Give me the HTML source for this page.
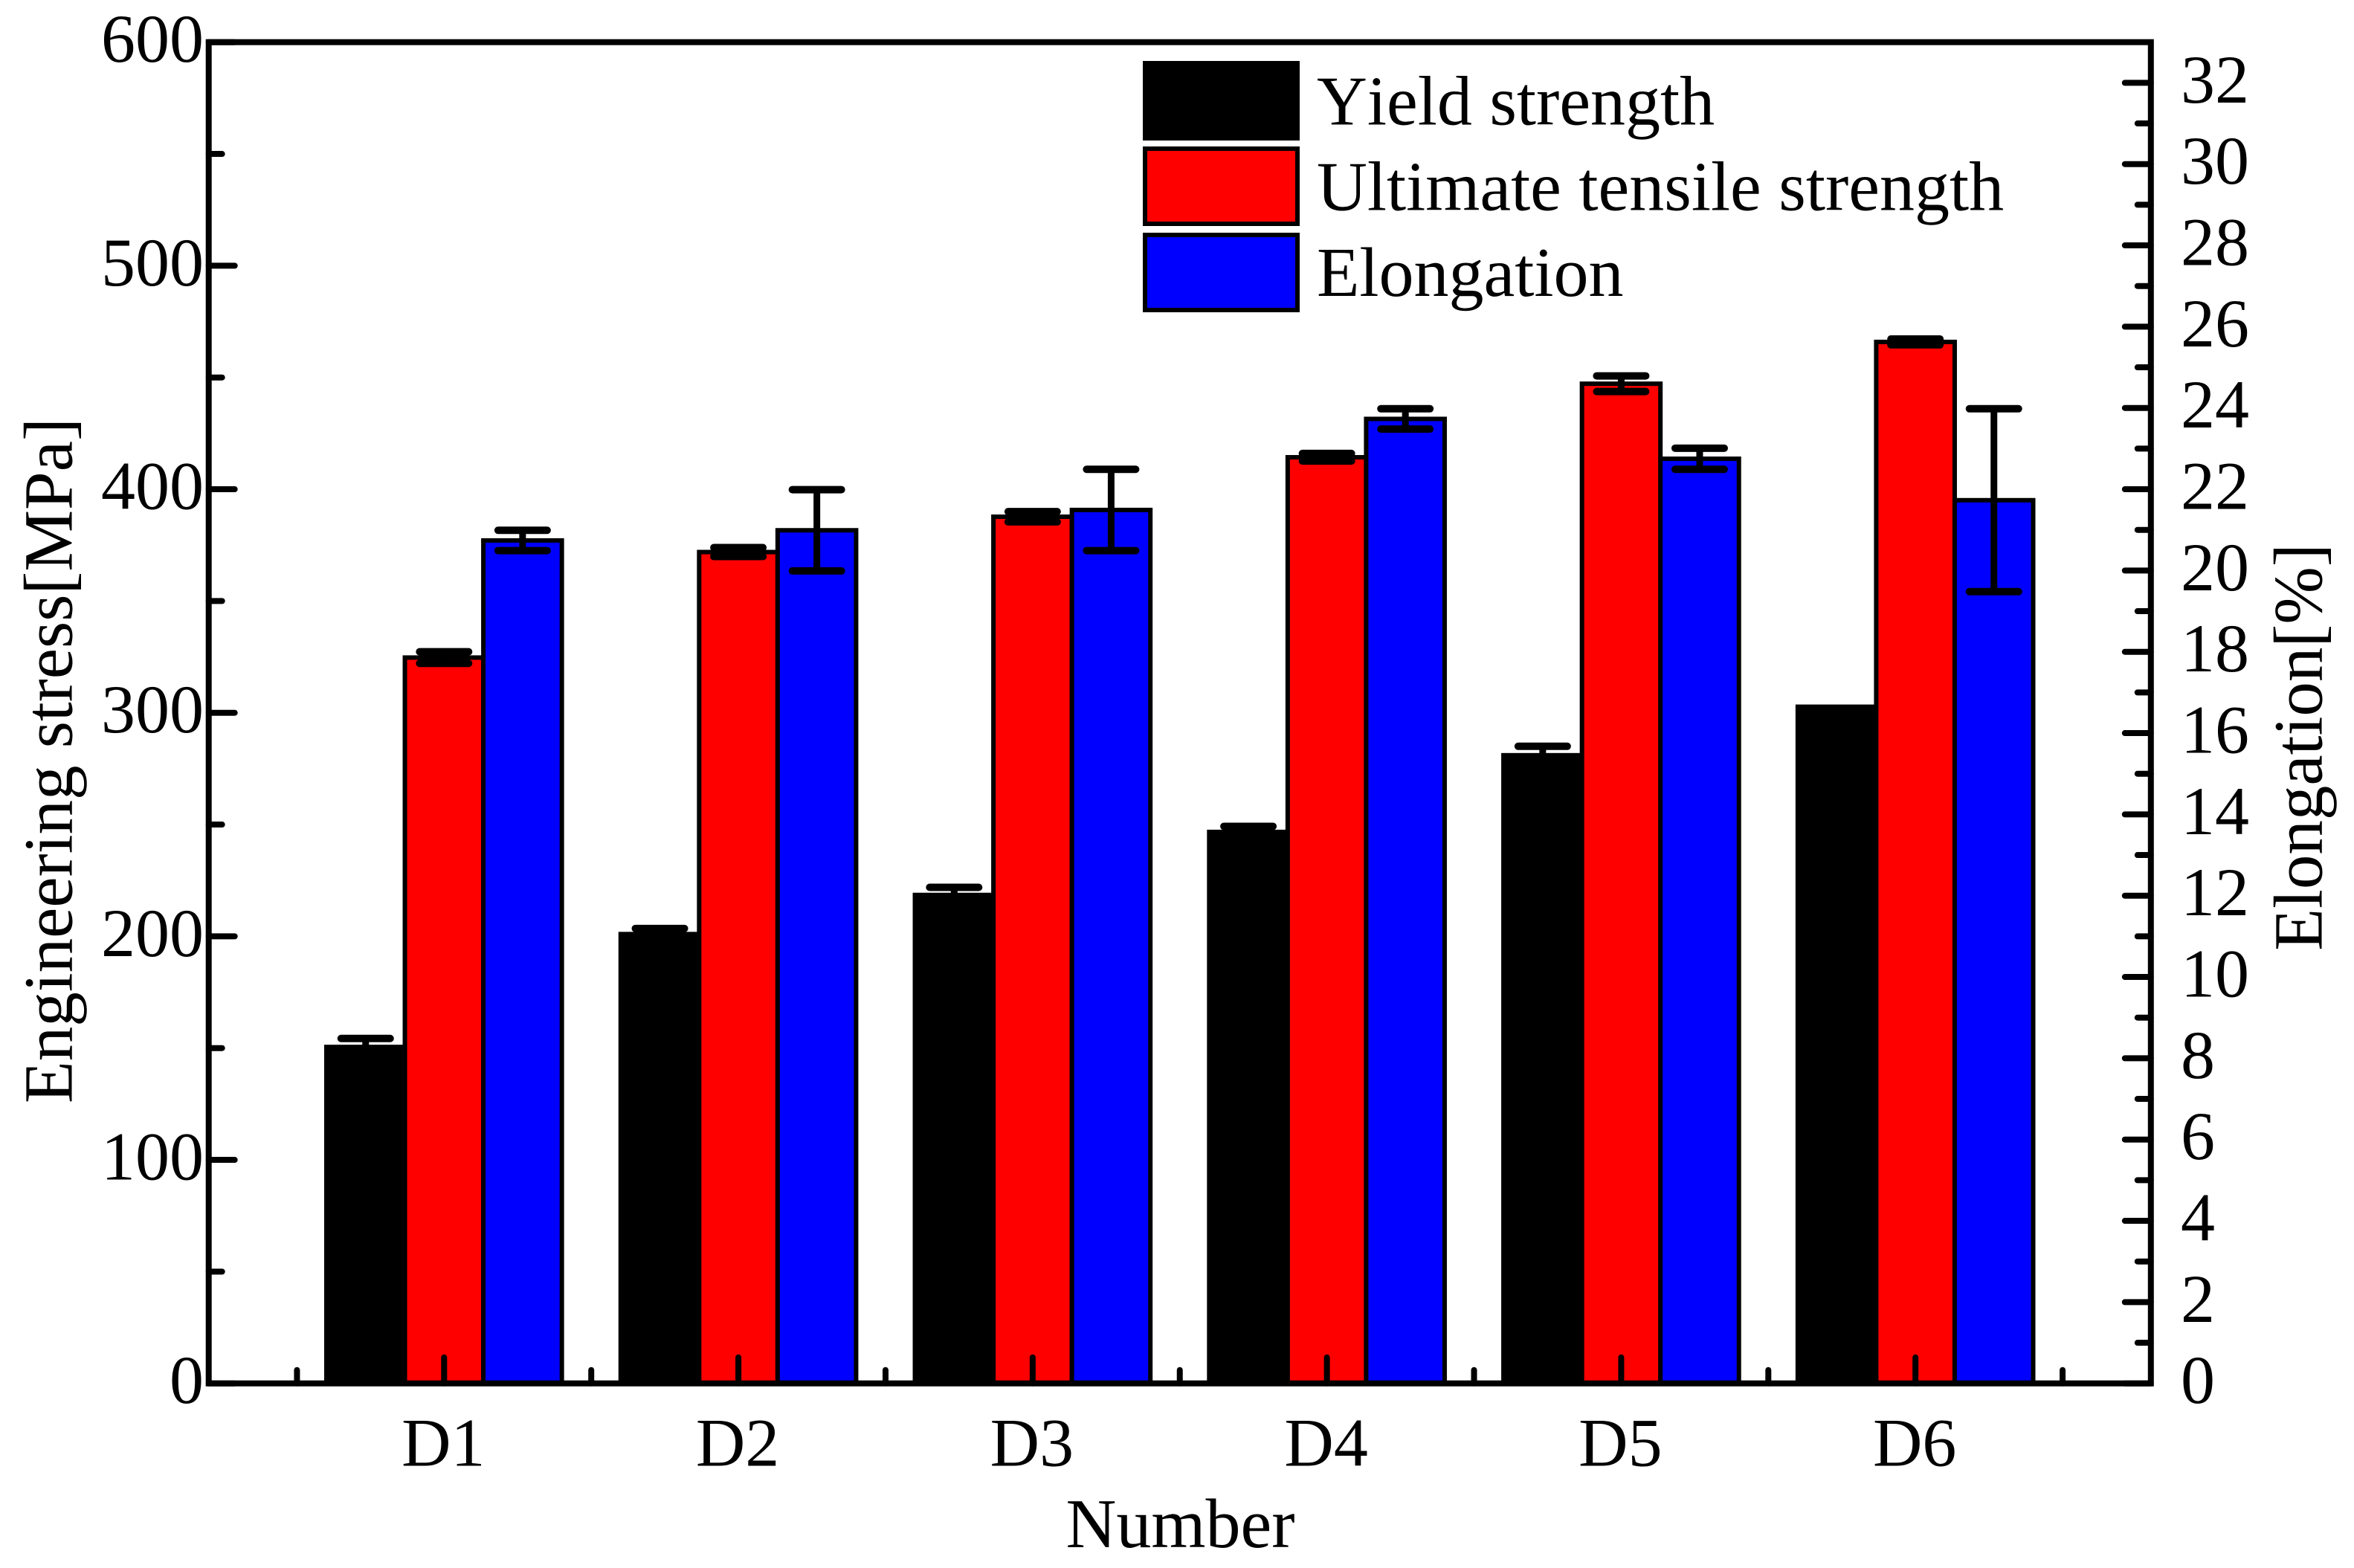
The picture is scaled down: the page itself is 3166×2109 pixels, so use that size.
<!DOCTYPE html>
<html lang="en">
<head>
<meta charset="utf-8">
<title>Engineering stress and elongation by sample</title>
<style>
  html, body { margin: 0; padding: 0; background: #fff; }
  svg { display: block; }
  text { font-family: "Liberation Serif", "Times New Roman", serif; font-size: 93px; fill: #000; }
  #labels text { font-size: 92px; }
  .legend-text { font-size: 94px; font-kerning: none; }
</style>
</head>
<body>
<svg id="chart" xmlns="http://www.w3.org/2000/svg" width="3166" height="2109" viewBox="0 0 3166 2109">
  <rect x="0" y="0" width="3166" height="2109" fill="#fff"/>
  <g id="bars"></g>
  <g id="errors"></g>
  <g id="ticks"></g>
  <rect x="280.7" y="56.7" width="2612.1" height="1804" fill="none" stroke="#000" stroke-width="8"/>
  <g id="labels"></g>

  <text x="1587.5" y="2081" text-anchor="middle" style="font-size:94px">Number</text>
  <text transform="translate(96.7,1023) rotate(-90)" text-anchor="middle">Engineering stress[MPa]</text>
  <text transform="translate(3122.7,1005) rotate(-90)" text-anchor="middle">Elongation[%]</text>

  <g>
    <rect x="1540" y="85" width="205" height="101" fill="#000" stroke="#000" stroke-width="6"/>
    <text class="legend-text" x="1771" y="167.7">Yield strength</text>
    <rect x="1540" y="200" width="205" height="101" fill="#f00" stroke="#000" stroke-width="6"/>
    <text class="legend-text" x="1771" y="282.7">Ultimate tensile strength</text>
    <rect x="1540" y="316" width="205" height="101" fill="#00f" stroke="#000" stroke-width="6"/>
    <text class="legend-text" x="1771" y="398">Elongation</text>
  </g>
</svg>
<script>
const categories = ['D1', 'D2', 'D3', 'D4', 'D5', 'D6'];
const yieldStrength = [150.5, 201, 218.5, 246.7, 281, 302.7];
const yieldError = [3.8, 2.5, 3.4, 2.5, 4, 0];
const ultimateStrength = [324.7, 371.9, 387.7, 414.3, 447.2, 465.9];
const ultimateError = [2.6, 2, 2.3, 1.7, 3.5, 1.3];
const elongation = [20.74, 20.99, 21.49, 23.73, 22.75, 21.73];
const elongationError = [0.25, 1, 1, 0.25, 0.26, 2.25];
const leftMajorTicks = [0, 100, 200, 300, 400, 500, 600];
const leftMinorTicks = [50, 150, 250, 350, 450, 550];
const rightMajorTicks = [0, 2, 4, 6, 8, 10, 12, 14, 16, 18, 20, 22, 24, 26, 28, 30, 32];
const rightMinorTicks = [1, 3, 5, 7, 9, 11, 13, 15, 17, 19, 21, 23, 25, 27, 29, 31];
const xMinorTicks = [0.5, 1.5, 2.5, 3.5, 4.5, 5.5, 6.5];

const NS = 'http://www.w3.org/2000/svg';
const plotLeft = 280.7, plotRight = 2892.8, plotTop = 56.7, plotBottom = 1860.7;
const xMin = 0.2, xMax = 6.8, leftMax = 600, rightMax = 33;
const barUnits = 0.2667;

function xPos(v) { return plotLeft + (v - xMin) / (xMax - xMin) * (plotRight - plotLeft); }
function yLeft(v) { return plotBottom - v / leftMax * (plotBottom - plotTop); }
function yRight(v) { return plotBottom - v / rightMax * (plotBottom - plotTop); }

function make(tag, parent, attrs) {
  const el = document.createElementNS(NS, tag);
  for (const k in attrs) el.setAttribute(k, attrs[k]);
  parent.appendChild(el);
  return el;
}
function lineAttrs(x1, y1, x2, y2, w) {
  return { x1: x1, y1: y1, x2: x2, y2: y2, stroke: '#000', 'stroke-width': w, 'stroke-linecap': 'round' };
}

const barsG = document.getElementById('bars');
const errorsG = document.getElementById('errors');
const ticksG = document.getElementById('ticks');
const labelsG = document.getElementById('labels');

function drawSeries(seriesName, values, errors, fill, offset, yFn) {
  values.forEach(function (v, i) {
    const x0 = xPos(i + 1 + (offset - 0.5) * barUnits);
    const x1 = xPos(i + 1 + (offset + 0.5) * barUnits);
    const bar = make('rect', barsG, { x: x0, y: yFn(v), width: x1 - x0, height: plotBottom - yFn(v), fill: fill, stroke: '#000', 'stroke-width': 6 });
    
    
    if (errors[i] <= 0) return;
    const cx = (x0 + x1) / 2;
    const hi = yFn(v + errors[i]);
    const lo = yFn(v - errors[i]);
    const stem = make('line', errorsG, lineAttrs(cx, hi, cx, lo, 9));
    
    
    const capHi = make('line', errorsG, lineAttrs(cx - 33, hi, cx + 33, hi, 10));
    
    
    const capLo = make('line', errorsG, lineAttrs(cx - 33, lo, cx + 33, lo, 10));
    
    
  });
}
drawSeries('yield-strength', yieldStrength, yieldError, '#000', -1, yLeft);
drawSeries('ultimate-tensile-strength', ultimateStrength, ultimateError, '#f00', 0, yLeft);
drawSeries('elongation', elongation, elongationError, '#00f', 1, yRight);

leftMajorTicks.forEach(function (v) {
  const t = make('line', ticksG, lineAttrs(plotLeft, yLeft(v), plotLeft + 35, yLeft(v), 8));
  
  
  const l = make('text', labelsG, { x: 274, y: yLeft(v) + 26.5, 'text-anchor': 'end' });
  
  
  l.textContent = v;
});
leftMinorTicks.forEach(function (v) {
  const t = make('line', ticksG, lineAttrs(plotLeft, yLeft(v), plotLeft + 18, yLeft(v), 8));
  
  
});
rightMajorTicks.forEach(function (v) {
  const t = make('line', ticksG, lineAttrs(plotRight, yRight(v), plotRight - 35, yRight(v), 8));
  
  
  const l = make('text', labelsG, { x: 2933, y: yRight(v) + 26.5 });
  
  
  l.textContent = v;
});
rightMinorTicks.forEach(function (v) {
  const t = make('line', ticksG, lineAttrs(plotRight, yRight(v), plotRight - 18, yRight(v), 8));
  
  
});
categories.forEach(function (c, i) {
  const t = make('line', ticksG, lineAttrs(xPos(i + 1), plotBottom, xPos(i + 1), plotBottom - 35, 8));
  
  
  const l = make('text', labelsG, { x: xPos(i + 1) - 1, y: 1971.7, 'text-anchor': 'middle' });
  
  
  l.textContent = c;
});
xMinorTicks.forEach(function (v) {
  const t = make('line', ticksG, lineAttrs(xPos(v), plotBottom, xPos(v), plotBottom - 18, 8));
  
  
});
</script>
</body>
</html>
